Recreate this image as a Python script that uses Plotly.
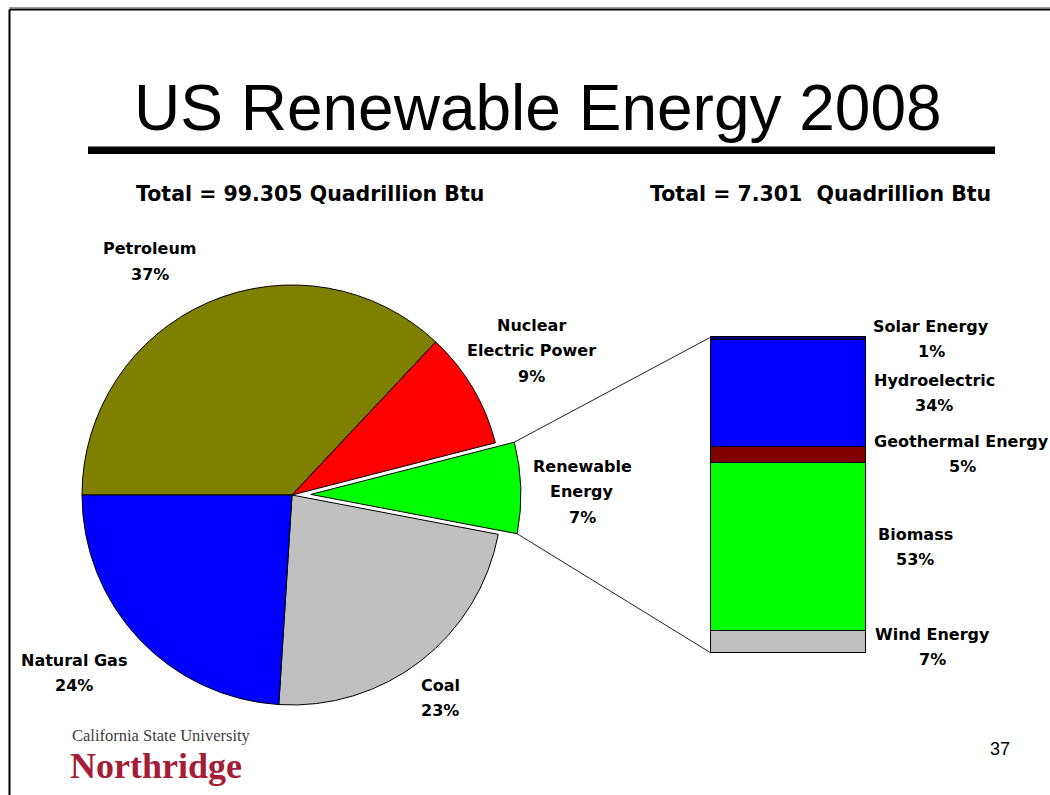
import math
import plotly.graph_objects as go

W, H = 1050, 795

# ---------------- data ----------------
title_text = "US Renewable Energy 2008"
pie_total_label = "Total = 99.305 Quadrillion Btu"
bar_total_label = "Total = 7.301  Quadrillion Btu"

pie_categories = ["Petroleum", "Nuclear Electric Power", "Renewable Energy", "Coal", "Natural Gas"]
pie_label_text = ["Petroleum", "Nuclear\nElectric Power", "Renewable\nEnergy", "Coal", "Natural Gas"]
pie_values = [37, 9, 7, 23, 24]
pie_colors = ["#808000", "#FF0000", "#00FF00", "#C0C0C0", "#0000FF"]
pie_pull = [0, 0, 0.09, 0, 0]

bar_categories = ["Wind Energy", "Biomass", "Geothermal Energy", "Hydroelectric", "Solar Energy"]
bar_values = [7, 53, 5, 34, 1]
bar_colors = ["#C0C0C0", "#00FF00", "#800000", "#0000FF", "#000080"]

logo_line1 = "California State University"
logo_line2 = "Northridge"
page_number = "37"

# ---------------- layout constants (pixels) ----------------
pie_cx, pie_cy, pie_r = 292, 495, 210
bar_x0, bar_x1, bar_top, bar_bot = 711, 866, 337, 653
LINE = 25.8
label_font = dict(family="DejaVu Sans", size=16, color="black")

# label anchor positions (centre x, first-line y) in pixels
pie_label_pos = {
    "Petroleum": (150, 249),
    "Nuclear Electric Power": (531, 325),
    "Renewable Energy": (582, 466),
    "Coal": (440, 685),
    "Natural Gas": (74, 660),
}
bar_label_pos = {
    "Solar Energy": (931, 326),
    "Hydroelectric": (934, 380),
    "Geothermal Energy": (962, 441),
    "Biomass": (915, 534),
    "Wind Energy": (932, 634),
}


def px(x):
    return x / W


def py(y):
    return 1 - y / H


fig = go.Figure()

# ---------------- pie ----------------
max_pull = max(pie_pull)
half = pie_r * (1 + max_pull)
rotation = -90
fig.add_trace(go.Pie(
    labels=pie_categories,
    values=pie_values,
    sort=False,
    direction="clockwise",
    rotation=rotation,
    pull=pie_pull,
    marker=dict(colors=pie_colors, line=dict(color="black", width=1)),
    textinfo="none",
    hoverinfo="label+percent",
    showlegend=False,
    domain=dict(x=[px(pie_cx - half), px(pie_cx + half)],
                y=[py(pie_cy + half), py(pie_cy - half)]),
))

# ---------------- stacked bar ----------------
bar_total = sum(bar_values)
padx, pady = 0.02, 0.012
for name, val, col in zip(bar_categories, bar_values, bar_colors):
    fig.add_trace(go.Bar(
        x=[0], y=[val], name=name, width=1,
        marker=dict(color=col, line=dict(color="black", width=1)),
        showlegend=False, hoverinfo="name+y",
    ))

bw = bar_x1 - bar_x0
bh = bar_bot - bar_top
fig.update_layout(
    barmode="stack", bargap=0,
    xaxis=dict(domain=[px(bar_x0 - bw * padx), px(bar_x1 + bw * padx)],
               range=[-0.5 - padx, 0.5 + padx], visible=False, fixedrange=True),
    yaxis=dict(domain=[py(bar_bot + bh * pady), py(bar_top - bh * pady)],
               range=[-bar_total * pady, bar_total * (1 + pady)], visible=False, fixedrange=True),
)

# ---------------- connectors from exploded slice to bar ----------------
total = sum(pie_values)
ridx = pie_categories.index("Renewable Energy")
a0 = rotation + 360 * sum(pie_values[:ridx]) / total
a1 = a0 + 360 * pie_values[ridx] / total
am = (a0 + a1) / 2
off = pie_pull[ridx] * pie_r
ox = pie_cx + off * math.sin(math.radians(am))
oy = pie_cy - off * math.cos(math.radians(am))
p_top = (ox + pie_r * math.sin(math.radians(a0)), oy - pie_r * math.cos(math.radians(a0)))
p_bot = (ox + pie_r * math.sin(math.radians(a1)), oy - pie_r * math.cos(math.radians(a1)))

shapes = []
for (sx, sy), (ex, ey) in [(p_top, (bar_x0, bar_top)), (p_bot, (bar_x0, bar_bot))]:
    shapes.append(dict(type="line", xref="paper", yref="paper",
                       x0=px(sx), y0=py(sy), x1=px(ex), y1=py(ey),
                       line=dict(color="#202020", width=1)))

# slide border and title underline
shapes.append(dict(type="line", xref="paper", yref="paper", x0=px(9), y0=py(7.5), x1=1, y1=py(7.5),
                   line=dict(color="#9a9a9a", width=1)))
shapes.append(dict(type="line", xref="paper", yref="paper", x0=px(9.5), y0=py(9.5), x1=1, y1=py(9.5),
                   line=dict(color="black", width=2)))
shapes.append(dict(type="line", xref="paper", yref="paper", x0=px(9.5), y0=py(9.5), x1=px(9.5), y1=0,
                   line=dict(color="black", width=2)))
shapes.append(dict(type="rect", xref="paper", yref="paper", x0=px(88), x1=px(995),
                   y0=py(154), y1=py(146.5), line=dict(width=0), fillcolor="black"))

# ---------------- annotations ----------------
ann = []


def text(x, y, s, font, xanchor="center", yanchor="middle"):
    ann.append(dict(x=px(x), y=py(y), xref="paper", yref="paper", text=s, showarrow=False,
                    font=font, xanchor=xanchor, yanchor=yanchor))


text(538, 108, title_text, dict(family="Liberation Sans", size=64, color="black"))
text(310, 194, f"<b>{pie_total_label}</b>", dict(family="DejaVu Sans", size=20.5, color="black"))
text(820, 194, f"<b>{bar_total_label}</b>", dict(family="DejaVu Sans", size=20.5, color="black"))

for name, lab, val in zip(pie_categories, pie_label_text, pie_values):
    x, y = pie_label_pos[name]
    lines = lab.split("\n") + [f"{val}%"]
    for i, ln in enumerate(lines):
        text(x, y + i * LINE, f"<b>{ln}</b>", label_font)

for name, val in zip(bar_categories, bar_values):
    x, y = bar_label_pos[name]
    if name == "Geothermal Energy":
        text(872, y, f"<b>{name}</b>", label_font, xanchor="left")
    else:
        text(x, y, f"<b>{name}</b>", label_font)
    text(x, y + LINE, f"<b>{val}%</b>", label_font)

text(70, 735.5, logo_line1, dict(family="Liberation Serif", size=16.5, color="#3c3c3c"), xanchor="left")
text(68, 766, f"<b>{logo_line2}</b>", dict(family="Liberation Serif", size=36, color="#A51C36"), xanchor="left")
text(999.5, 749, page_number, dict(family="Liberation Sans", size=18, color="black"))

fig.update_layout(
    width=W, height=H, autosize=False,
    margin=dict(l=0, r=0, t=0, b=0),
    paper_bgcolor="white", plot_bgcolor="rgba(0,0,0,0)",
    shapes=shapes, annotations=ann,
)

fig.write_html("out.html")
